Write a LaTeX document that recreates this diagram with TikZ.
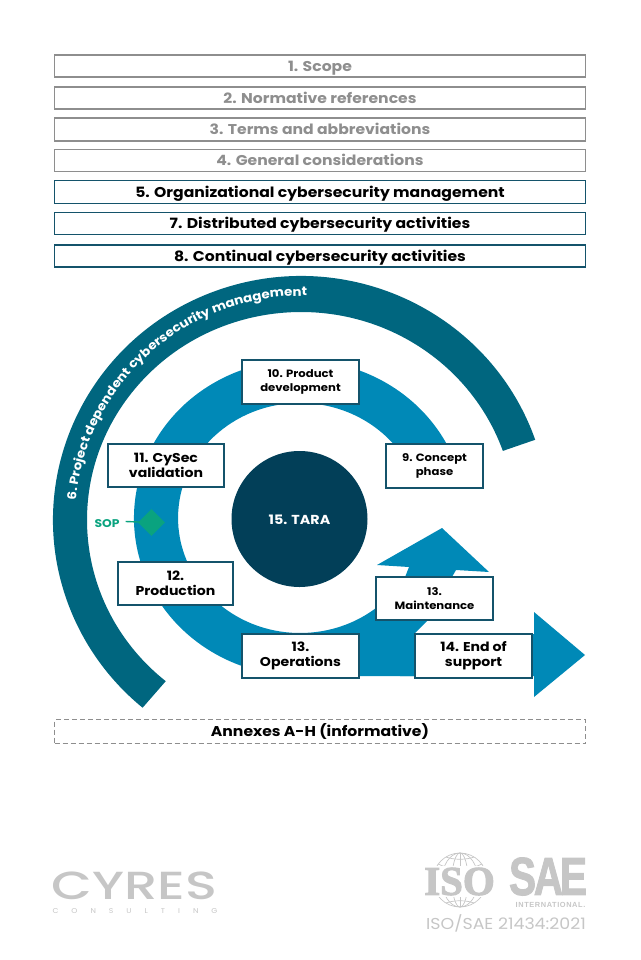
\documentclass[tikz,border=0pt]{standalone}
\usepackage{fontspec}
\setmainfont{Poppins}[FakeStretch=1.1]
\newfontfamily\popm{Poppins Medium}
\newfontfamily\lserif{Liberation Serif Bold}[FakeBold=2.5]
\newfontfamily\lsans{Liberation Sans Bold}[FakeBold=2]
\newfontfamily\lsanst{Liberation Sans Bold}[LetterSpace=8]
\usetikzlibrary{calc,decorations.text,shapes.geometric}
\definecolor{teal6}{HTML}{00667F}
\definecolor{blueR}{HTML}{0089B7}
\definecolor{navy}{HTML}{023F58}
\definecolor{edgeB}{HTML}{14536B}
\definecolor{greyB}{HTML}{8E8E8E}
\definecolor{greenS}{HTML}{0AA37F}
\definecolor{logoG}{HTML}{C6C6C6}
\tikzset{
  greybar/.style={draw=greyB,line width=1.6pt,fill=white,minimum width=531pt,minimum height=22pt,inner sep=0pt,text=greyB,text height=10.5pt,text depth=0pt,font=\fontsize{14.2}{15}\selectfont\bfseries},
  navybar/.style={draw=edgeB,line width=1.4pt,fill=white,minimum width=531pt,minimum height=22pt,inner sep=0pt,text=black,text height=10.5pt,text depth=0pt,font=\fontsize{14.2}{15}\selectfont\bfseries},
  dashbar/.style={draw=greyB,line width=1.6pt,dash pattern=on 5pt off 3pt,fill=white,minimum width=531pt,minimum height=24pt,inner sep=0pt,text=black,text height=10.5pt,text depth=0pt,font=\fontsize{14.2}{15}\selectfont\bfseries},
  phase/.style={draw=edgeB,line width=1.4pt,fill=white,inner sep=0pt,align=center,text=black,font=\fontsize{12.8}{15}\selectfont\bfseries},
  phasesm/.style={phase,font=\fontsize{10.6}{13.5}\selectfont\bfseries},
}
\begin{document}
\begin{tikzpicture}[x=1pt,y=-1pt]
\useasboundingbox (0,0) rectangle (640,960);
% top bars
\node[greybar] (b1) at (320,66) {1. Scope};
\node[greybar] (b2) at (320,98) {2. Normative references};
\node[greybar,minimum height=23pt] (b3) at (320,129.7) {3. Terms and abbreviations};
\node[greybar] (b4) at (320,160.5) {4. General considerations};
\node[navybar,minimum height=23pt] (b5) at (320,192) {5. Organizational cybersecurity management};
\node[navybar] (b7) at (320,223.5) {7. Distributed cybersecurity activities};
\node[navybar] (b8) at (320,256) {8. Continual cybersecurity activities};
% outer arc
\coordinate (co) at (301,520);
\fill[teal6] ($(co)+(19.2:248pt and 244pt)$) arc[start angle=19.2,end angle=230.3,x radius=248pt,y radius=244pt]
  -- ($(co)+(230.8:214pt and 208pt)$) arc[start angle=230.8,end angle=19.4,x radius=214pt,y radius=208pt] -- cycle;
\path[decorate,decoration={text along path,text color=white,
   text={|\fontsize{12.2}{14}\selectfont\bfseries|6. Project dependent cybersecurity management}}]
  ($(co)+(175:226pt and 224pt)$) arc[start angle=175,end angle=80,x radius=226pt,y radius=224pt];
% blue ring upper part
\coordinate (cr) at (300,518);
\fill[blueR] ($(cr)+(25:166pt and 158pt)$) arc[start angle=25,end angle=270,x radius=166pt,y radius=158pt]
  -- (415,676) -- (414,634) -- (427,621) -- (456,570) -- (489,572) -- (442,528) -- (377,565) -- (409,567) -- (400,590) -- (376,608)
  arc[start angle=-51.5,end angle=-180,x radius=122pt,y radius=115pt]
  arc[start angle=180,end angle=25,x radius=122pt,y radius=115pt] -- cycle;
% end-of-support arrow
\fill[blueR] (400,634) -- (534,634) -- (534,612) -- (585,655) -- (534,697) -- (534,676) -- (400,676) -- cycle;
% centre
\node[circle,fill=navy,minimum size=136pt,inner sep=0pt,text=white,text height=10pt,text depth=0pt,font=\fontsize{13}{15}\selectfont\bfseries] (tara) at (299.5,519) {15. TARA};
% phase boxes
\node[phasesm,minimum width=117pt,minimum height=44pt] (p10) at (300.5,382) {10. Product\\development};
\node[phase,minimum width=116pt,minimum height=43pt] (p11) at (166,465.5) {11. CySec\\validation};
\node[phasesm,minimum width=97pt,minimum height=44pt] (p9) at (434.5,466) {9. Concept\\phase};
\node[phase,minimum width=115pt,minimum height=43pt] (p12) at (175.5,583.5) {12.\\Production};
\node[phase,minimum width=117pt,minimum height=44pt] (p13o) at (300.5,656) {13.\\Operations};
\node[phasesm,minimum width=117pt,minimum height=43pt] (p13m) at (434.5,598.5) {13.\\Maintenance};
\node[phase,minimum width=117pt,minimum height=44pt] (p14) at (473.5,656) {14. End of\\support};
% SOP
\node[diamond,fill=greenS,minimum width=27pt,minimum height=27pt,inner sep=0pt] (dm) at (151.5,522.5) {};
\node[inner sep=0pt,text=greenS,text height=9pt,text depth=0pt,font=\fontsize{11.2}{13}\selectfont\bfseries] (sop) at (107,522.5) {SOP};
\draw[greenS,line width=1.4pt] (sop.east)++(6pt,1pt) coordinate (st) (st) -- (dm.center);
% annex
\node[dashbar] (ann) at (320,731.5) {Annexes A-H (informative)};
% CYRES logo
\node[inner sep=0pt,text=logoG,font=\popm\fontsize{40}{42}\selectfont] (cy) at (134.5,886) {\scalebox{1.32}[0.98]{CYRES}};
\node[inner sep=0pt,text=logoG,font=\fontsize{7}{8}\selectfont] (cs) at (135,911) {C\hspace{13pt}O\hspace{13pt}N\hspace{13pt}S\hspace{13pt}U\hspace{13pt}L\hspace{13pt}T\hspace{13pt}I\hspace{13pt}N\hspace{13pt}G};
% globe
\coordinate (g) at (460,880);
\begin{scope}[draw=logoG,line width=0.7pt]
\draw (g) circle[radius=27pt];
\draw (g) ellipse[x radius=18pt,y radius=27pt];
\draw (g) ellipse[x radius=8pt,y radius=27pt];
\draw (460,853) -- (460,907);
\draw (438,864) .. controls (450,870) and (470,870) .. (482,864);
\draw (446,857) .. controls (454,860) and (466,860) .. (474,857);
\draw (438,896) .. controls (450,890) and (470,890) .. (482,896);
\draw (446,903) .. controls (454,900) and (466,900) .. (474,903);
\end{scope}
\node[fill=white,inner sep=0pt,text=logoG,font=\lserif\fontsize{41}{42}\selectfont,minimum width=68pt,minimum height=31pt] (iso) at (459.5,881.5) {ISO};
% SAE
\node[inner sep=0pt,text=logoG,font=\lsans\fontsize{52}{54}\selectfont] (sae) at (548,876.5) {\scalebox{0.78}[1.03]{S\kern-3ptA\kern-4ptE}};
\node[inner sep=0pt,text=logoG,font=\lsanst\fontsize{7.4}{9}\selectfont] (intl) at (550.5,905) {INTERNATIONAL.};
\node[inner sep=0pt,text=logoG,font=\fontsize{15.8}{18}\selectfont] (std) at (506,923) {ISO/SAE 21434:2021};
\end{tikzpicture}
\end{document}
